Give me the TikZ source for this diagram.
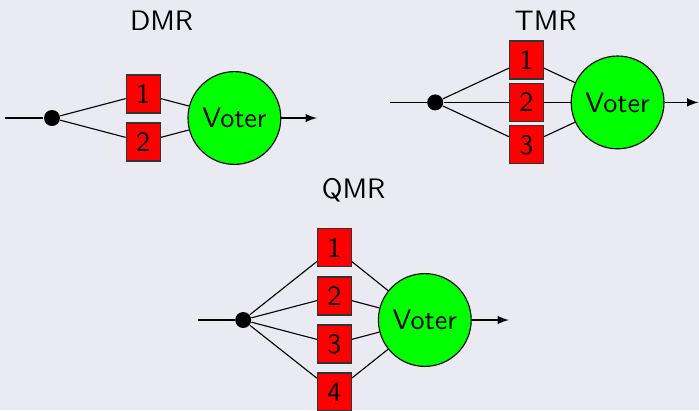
\documentclass[tikz,border=0pt]{standalone}
\usepackage{amsmath,amssymb}
\usepackage{tikz}
\definecolor{slidebg}{RGB}{234,234,242}
\tikzset{
    joint/.style={circle,fill=black,inner sep=0pt,minimum size=0.2cm},
    module/.style={draw=black!80,fill=red,inner sep=0pt,minimum width=0.425cm,minimum height=0.475cm},
    voter/.style={circle,draw=black,fill=green,inner sep=0pt,minimum size=1.16cm},
}

\begin{document}
\begin{tikzpicture}[font=\sffamily]
    \fill[slidebg] (0,0) rectangle (8.7375,5.125);
    \useasboundingbox (0,0) rectangle (8.7375,5.125);

    % DMR
    \node[anchor=base] (dmrtitle) at (2.02,4.75) {DMR};
    \coordinate (dmrin) at (0.06,3.65);
    \node[joint] (dmrdot) at (0.65,3.65) {};
    \node[module] (dmr1) at (1.79,3.95) {1};
    \node[module] (dmr2) at (1.79,3.35) {2};
    \node[voter] (dmrvote) at (2.93,3.65) {Voter};
    \coordinate (dmrout) at (3.96,3.65);
    \draw (dmrin) -- (dmrdot);
    \draw (dmrdot) -- (dmr1) -- (dmrvote);
    \draw (dmrdot) -- (dmr2) -- (dmrvote);
    \draw[-latex] (dmrvote) -- (dmrout);

    % TMR
    \node[anchor=base] (tmrtitle) at (6.82,4.75) {TMR};
    \coordinate (tmrin) at (4.875,3.845);
    \node[joint] (tmrdot) at (5.44,3.845) {};
    \node[module] (tmr1) at (6.58,4.375) {1};
    \node[module] (tmr2) at (6.58,3.845) {2};
    \node[module] (tmr3) at (6.58,3.315) {3};
    \node[voter] (tmrvote) at (7.72,3.845) {Voter};
    \coordinate (tmrout) at (8.73,3.845);
    \draw (tmrin) -- (tmrdot);
    \draw (tmrdot) -- (tmr1) -- (tmrvote);
    \draw (tmrdot) -- (tmr2) -- (tmrvote);
    \draw (tmrdot) -- (tmr3) -- (tmrvote);
    \draw[-latex] (tmrvote) -- (tmrout);

    % QMR
    \node[anchor=base] (qmrtitle) at (4.42,2.646) {QMR};
    \coordinate (qmrin) at (2.475,1.125);
    \node[joint] (qmrdot) at (3.04,1.125) {};
    \node[module] (qmr1) at (4.18,2.03) {1};
    \node[module] (qmr2) at (4.18,1.425) {2};
    \node[module] (qmr3) at (4.18,0.825) {3};
    \node[module] (qmr4) at (4.18,0.225) {4};
    \node[voter] (qmrvote) at (5.31,1.125) {Voter};
    \coordinate (qmrout) at (6.36,1.125);
    \draw (qmrin) -- (qmrdot);
    \draw (qmrdot) -- (qmr1) -- (qmrvote);
    \draw (qmrdot) -- (qmr2) -- (qmrvote);
    \draw (qmrdot) -- (qmr3) -- (qmrvote);
    \draw (qmrdot) -- (qmr4) -- (qmrvote);
    \draw[-latex] (qmrvote) -- (qmrout);
\end{tikzpicture}
\end{document}
